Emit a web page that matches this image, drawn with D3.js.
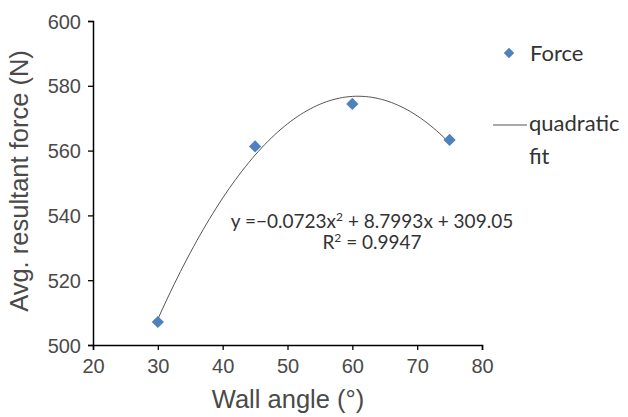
<!DOCTYPE html>
<html><head><meta charset="utf-8">
<script src="https://cdn.jsdelivr.net/npm/d3@7"></script>
<style>body{margin:0;background:#fff}</style>
</head><body>
<svg id="c" width="628" height="417"></svg>
<script>
const angles = [30, 45, 60, 75];
const forces = [507.1, 561.3, 574.4, 563.3];
const fitCoef = [-0.0723, 8.7993, 309.05];
const xTicks = [20, 30, 40, 50, 60, 70, 80];
const yTicks = [500, 520, 540, 560, 580, 600];
const seriesNames = ["Force", "quadratic", "fit"];
const eqText = ["y =\u22120.0723x", "2", " + 8.7993x + 309.05"];
const r2Text = ["R", "2", " = 0.9947"];

const svg = d3.select("#c");
const x = d3.scaleLinear().domain([20, 80]).range([93, 482]);
const y = d3.scaleLinear().domain([500, 600]).range([345, 21]);
const axisFont = "'Liberation Sans', Arial, sans-serif";
const labFont = "Lato, 'Open Sans', sans-serif";

// axes
const gx = svg.append("g").attr("transform", "translate(0,345)")
  .call(d3.axisBottom(x).tickValues(xTicks).tickSize(5).tickPadding(9));
const gy = svg.append("g").attr("transform", "translate(93,0)")
  .call(d3.axisLeft(y).tickValues(yTicks).tickSize(5).tickPadding(6));
[gx, gy].forEach(g => {
  g.select(".domain").attr("stroke", "#000").attr("stroke-width", 1.5);
  g.selectAll(".tick line").attr("stroke", "#000").attr("stroke-width", 1.3);
  g.selectAll("text").attr("font-family", axisFont).attr("font-size", 20).attr("fill", "#4a4a4a");
});
gy.selectAll("text").attr("dy", "0.35em").attr("x", -12);

// axis titles
svg.append("text").attr("x", 288).attr("y", 408).attr("text-anchor", "middle")
  .attr("font-family", axisFont).attr("font-size", 25.5).attr("fill", "#4a4a4a").text("Wall angle (°)");
svg.append("text").attr("transform", "translate(28,181) rotate(-90)").attr("text-anchor", "middle")
  .attr("font-family", axisFont).attr("font-size", 25.5).attr("fill", "#4a4a4a").text("Avg. resultant force (N)");

// fit curve
const fitX = d3.range(30, 75.01, 0.5);
const f = v => fitCoef[0]*v*v + fitCoef[1]*v + fitCoef[2];
svg.append("path").datum(fitX)
  .attr("d", d3.line().x(d => x(d)).y(d => y(f(d))).curve(d3.curveLinear))
  .attr("fill", "none").attr("stroke", "#555").attr("stroke-width", 1);

// points
const diamond = d3.symbol().type(d3.symbolDiamond2).size(95);
svg.selectAll("path.pt").data(angles).join("path").attr("class", "pt")
  .attr("transform", (d, i) => `translate(${x(d)},${y(forces[i])})`)
  .attr("d", diamond).attr("fill", "#4f81bd");

// equation
const eq = svg.append("text").attr("x", 372).attr("y", 228).attr("text-anchor", "middle")
  .attr("font-family", labFont).attr("font-size", 19).attr("fill", "#333");
eq.append("tspan").text(eqText[0]);
eq.append("tspan").attr("dy", -7).attr("font-size", 12).text(eqText[1]);
eq.append("tspan").attr("dy", 7).text(eqText[2]);
const r2 = svg.append("text").attr("x", 372).attr("y", 249).attr("text-anchor", "middle")
  .attr("font-family", labFont).attr("font-size", 19).attr("fill", "#333");
r2.append("tspan").text(r2Text[0]);
r2.append("tspan").attr("dy", -7).attr("font-size", 12).text(r2Text[1]);
r2.append("tspan").attr("dy", 7).text(r2Text[2]);

// legend
svg.append("path").attr("transform", "translate(509,53)").attr("d", d3.symbol().type(d3.symbolDiamond2).size(70)).attr("fill", "#4f81bd");
svg.append("text").attr("x", 530).attr("y", 61).attr("font-family", labFont).attr("font-size", 22).attr("fill", "#333").text(seriesNames[0]);
svg.append("line").attr("x1", 493).attr("x2", 527).attr("y1", 125).attr("y2", 125).attr("stroke", "#555").attr("stroke-width", 1);
svg.append("text").attr("x", 529).attr("y", 131).attr("font-family", labFont).attr("font-size", 22).attr("fill", "#333").text(seriesNames[1]);
svg.append("text").attr("x", 529).attr("y", 164).attr("font-family", labFont).attr("font-size", 22).attr("fill", "#333").text(seriesNames[2]);
</script>
</body></html>
